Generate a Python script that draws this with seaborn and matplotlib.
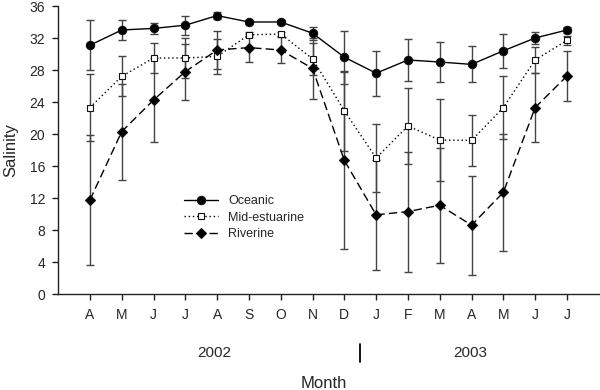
import numpy as np
import pandas as pd
import matplotlib
matplotlib.use("Agg")
import matplotlib.pyplot as plt
import matplotlib.transforms as mtrans
import seaborn as sns

# ── Data ────────────────────────────────────────────────────────────────────
months = ["A", "M", "J", "J", "A", "S", "O", "N", "D", "J", "F", "M", "A", "M", "J", "J"]
years = ["2002", "2003"]

oceanic     = [31.1, 33.0, 33.2, 33.6, 34.8, 34.0, 34.0, 32.6, 29.6, 27.6, 29.25, 29.0, 28.7, 30.4, 32.0, 33.0]
oceanic_sd  = [3.1, 1.3, 0.7, 1.2, 0.4, 0.3, 0.3, 0.8, 3.3, 2.8, 2.65, 2.5, 2.25, 2.1, 0.7, 0.4]
mid         = [23.3, 27.2, 29.5, 29.5, 29.7, 32.4, 32.5, 29.4, 22.9, 17.0, 21.0, 19.25, 19.2, 23.3, 29.25, 31.7]
mid_sd      = [4.2, 2.5, 1.9, 2.5, 2.2, 0.3, 0.3, 2.0, 5.0, 4.2, 4.7, 5.1, 3.2, 3.9, 1.6, 0.6]
riverine    = [11.75, 20.3, 24.25, 27.8, 30.5, 30.8, 30.5, 28.2, 16.7, 9.9, 10.3, 11.1, 8.6, 12.7, 23.3, 27.25]
riverine_sd = [8.1, 6.0, 5.2, 3.5, 2.4, 1.75, 1.6, 3.8, 11.1, 6.9, 7.5, 7.2, 6.2, 7.3, 4.3, 3.1]

x = np.arange(len(months))

sns.set_style("ticks")
plt.rcParams["font.family"] = ["Liberation Sans", "DejaVu Sans"]

fig = plt.figure(figsize=(6, 3.9), dpi=100)
ax = fig.add_axes([57.5 / 600, 1 - 294 / 390, 1 - 57.5 / 600, 288 / 390])

series = [
    ("Oceanic",      oceanic,  oceanic_sd,  dict(marker="o", ms=6, mfc="black", linestyle="-")),
    ("Mid-estuarine", mid,     mid_sd,      dict(marker="s", ms=5, mfc="white", linestyle=(0, (1, 2)))),
    ("Riverine",     riverine, riverine_sd, dict(marker="D", ms=5, mfc="black", linestyle=(0, (6, 3)))),
]

for name, vals, sd, style in series:
    ax.errorbar(x, vals, yerr=sd, fmt="none", ecolor="#444444", elinewidth=1,
                capsize=3, capthick=1, zorder=1)
    df = pd.DataFrame({"month": x, "salinity": vals})
    sns.lineplot(data=df, x="month", y="salinity", ax=ax, color="black", lw=1,
                 mec="#111111", mew=0.8, label=name, zorder=3, **style)

ax.set_xlim(-1.02, 16.04)
ax.set_ylim(0, 36)
ax.set_yticks(np.arange(0, 37, 4))
ax.set_xticks(x)
ax.set_xticklabels(months)
ax.tick_params(axis="both", direction="out", length=4, width=1, labelsize=10,
               color="#222222")
ax.tick_params(axis="x", pad=6)
ax.tick_params(axis="y", pad=5)
sns.despine(ax=ax)
for s in ("left", "bottom"):
    ax.spines[s].set_linewidth(1)
    ax.spines[s].set_color("#222222")

ax.set_ylabel("Salinity", fontsize=12)
ax.yaxis.set_label_coords(-0.072, 0.5)
ax.set_xlabel("Month", fontsize=12)
ax.xaxis.set_label_coords(0.491, -0.285)

# year labels and separator below the month ticks
tr = mtrans.blended_transform_factory(ax.transData, fig.transFigure)
ax.text(3.9, 1 - 353 / 390, years[0], transform=tr, ha="center", va="center", fontsize=11)
ax.text(11.95, 1 - 353 / 390, years[1], transform=tr, ha="center", va="center", fontsize=11)
ax.plot([8.5, 8.5], [1 - 344 / 390, 1 - 362 / 390], transform=tr, color="black",
        lw=1.3, clip_on=False)

ax.legend(loc="upper left", bbox_to_anchor=(0.222, 0.365), frameon=False, fontsize=9,
          handlelength=2.7, handletextpad=0.8, labelspacing=0.35, borderpad=0)

fig.savefig("out.png", dpi=100)
